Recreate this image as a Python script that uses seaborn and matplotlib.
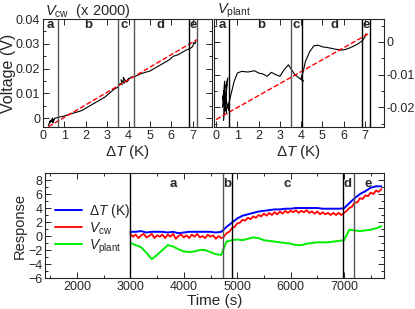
import numpy as np
import pandas as pd
import matplotlib
matplotlib.use("Agg")
import matplotlib.pyplot as plt
import seaborn as sns
from matplotlib.ticker import MultipleLocator

# ---- data: V_cw (x 2000) vs dT ----
cw_dt = [0.25, 0.35, 0.3, 0.45, 0.4, 0.5, 0.45, 0.55, 0.6, 0.8, 1.0, 1.2, 1.5, 1.8, 2.0, 2.3,
         2.6, 2.9, 3.1, 3.3, 3.5, 3.6, 3.7, 3.65, 3.8, 3.75, 3.9, 4.0, 3.95, 4.1, 4.3, 4.6,
         5.0, 5.3, 5.6, 5.9, 6.1, 6.3, 6.5, 6.7, 6.85, 6.95, 7.0, 7.05, 7.1, 7.15]
cw_v = [-0.003, -0.001, -0.002, 0.0, -0.0015, -0.0005, -0.002, 0.0, 0.0, 0.0005, 0.0008,
        0.0015, 0.0022, 0.003, 0.004, 0.0055, 0.007, 0.0085, 0.010, 0.0115, 0.0125, 0.014,
        0.0135, 0.0155, 0.014, 0.0165, 0.0145, 0.016, 0.015, 0.0165, 0.0168, 0.018, 0.019,
        0.0205, 0.022, 0.0235, 0.025, 0.0255, 0.0265, 0.0275, 0.028, 0.0285, 0.029, 0.0305,
        0.030, 0.031]
cw_fit_dt = [0.25, 7.2]
cw_fit_v = [-0.0035, 0.0317]
cw_bounds = [0.68, 3.52, 4.27, 6.84, 7.18]
cw_bound_col = ["#555555", "#555555", "#555555", "black", "#555555"]
cw_lab_x = [0.35, 2.12, 3.78, 5.47, 7.0]

# ---- data: V_plant vs dT ----
pl_dt = [0.3, 0.4, 0.35, 0.5, 0.45, 0.3, 0.55, 0.4, 0.5, 0.35, 0.6, 0.55, 0.7, 0.85, 1.0,
         1.2, 1.5, 1.8, 2.0, 2.2, 2.4, 2.6, 2.8, 3.0, 3.2, 3.4, 3.5, 3.6, 3.7, 3.8, 3.9, 4.0,
         4.1, 4.0, 4.1, 4.2, 4.4, 4.6, 4.8, 5.0, 5.3, 5.6, 5.9, 6.1, 6.3, 6.5, 6.7, 6.9, 7.0,
         7.05]
pl_v = [-0.020, -0.012, -0.024, -0.013, -0.021, -0.017, -0.011, -0.019, -0.022, -0.015,
        -0.021, -0.020, -0.016, -0.012, -0.0095, -0.009, -0.0092, -0.0088, -0.0095, -0.0098,
        -0.0105, -0.0093, -0.0100, -0.0105, -0.0085, -0.0070, -0.0080, -0.0090, -0.0100,
        -0.0105, -0.0110, -0.0115, -0.0120, -0.0110, -0.0090, -0.0060, -0.0030, -0.0012,
        -0.0010, -0.0015, -0.0018, -0.0022, -0.0025, -0.0023, -0.0018, -0.0012, -0.0005,
        0.0005, 0.0015, 0.0025]
pl_fit_dt = [0.0, 7.2]
pl_fit_v = [-0.0237, 0.0026]
pl_bounds = [0.62, 3.5, 4.02, 6.87, 7.23]
pl_bound_col = ["black", "#555555", "black", "black", "black"]
pl_lab_x = [0.31, 2.11, 3.78, 5.55, 7.04]

# ---- data: response vs time ----
time_s = list(range(3000, 7800, 100))
resp_dt = [0.6, 0.6, 0.7, 0.5, 0.6, 0.6, 0.6, 0.5, 0.6, 0.4, 0.5, 0.6, 0.6, 0.6, 0.6, 0.6,
           0.5, 0.6, 1.3, 1.9, 2.5, 2.9, 3.1, 3.3, 3.5, 3.6, 3.7, 3.8, 3.8, 3.9, 3.9, 4.0,
           4.0, 4.0, 4.0, 4.0, 3.9, 3.9, 3.9, 3.9, 3.95, 4.7, 5.4, 6.0, 6.4, 6.9, 7.1, 7.1]
time_cw = list(range(3000, 7750, 50))
resp_cw = [0.3, -0.1, 0.2, -0.3, 0.1, 0.3, -0.2, 0.0, 0.3, -0.3, 0.1, -0.1, 0.2, -0.3, 0.2,
           -0.1, 0.3, -0.4, 0.0, 0.2, -0.2, 0.1, -0.3, 0.2, -0.1, 0.3, -0.2, 0.0, -0.3, 0.2,
           -0.1, 0.1, -0.4, 0.0, -0.3,
           -0.1, 0.4, 0.6, 1.1, 1.3,
           1.8, 1.9, 2.3, 2.2, 2.6, 2.4, 2.8, 2.6, 3.0, 2.8, 3.2, 2.9, 3.3, 3.0, 3.4, 3.1, 3.5,
           3.2, 3.6, 3.3,
           3.6, 3.4, 3.7, 3.3, 3.6, 3.4, 3.7, 3.3, 3.5, 3.2, 3.5, 3.1, 3.4, 3.1, 3.3, 3.0, 3.3,
           3.0, 3.3, 3.0,
           3.3, 3.6, 4.0, 4.2, 4.8, 4.8, 5.4, 5.3, 5.8, 5.7, 6.2, 6.0, 6.5, 6.3, 6.7]
resp_pl = [-1.0, -1.3, -1.6, -2.4, -3.3, -2.7, -2.0, -1.3, -1.5, -1.9, -2.2, -2.3, -2.2,
           -2.0, -2.0, -2.3, -2.6, -2.7, -0.8, -0.6, -0.5, -0.6, -0.4, -0.2, -0.3, -0.6,
           -0.7, -0.8, -0.9, -1.0, -1.1, -1.3, -1.3, -1.1, -1.0, -0.9, -0.9, -0.9, -0.8,
           -0.7, -0.6, 0.9, 0.8, 0.7, 0.8, 0.9, 1.1, 1.4]
t_bounds = [3000, 4740, 4905, 6990, 7190]
t_bound_col = ["black", "#555555", "black", "black", "#555555"]
t_lab_x = [3810, 4813, 5940, 7060, 7450]
seg_labels = ["a", "b", "c", "d", "e"]

sns.set_style("ticks")
plt.rcParams["font.family"] = ["Liberation Sans", "DejaVu Sans"]
plt.rcParams["mathtext.fontset"] = "custom"
plt.rcParams["mathtext.rm"] = "Liberation Sans"
plt.rcParams["mathtext.it"] = "Liberation Sans:italic"
plt.rcParams["xtick.direction"] = "in"
plt.rcParams["ytick.direction"] = "in"
plt.rcParams["xtick.top"] = True
plt.rcParams["ytick.right"] = True

fig = plt.figure(figsize=(4.15, 3.09), dpi=100)
ax1 = fig.add_axes([0.1036, 0.589, 0.4072, 0.3495])
ax2 = fig.add_axes([0.5157, 0.589, 0.4096, 0.3495])
ax3 = fig.add_axes([0.1084, 0.1003, 0.8157, 0.3398])


def style(ax):
    for s in ax.spines.values():
        s.set_linewidth(0.8)
    ax.tick_params(which="major", length=4, width=0.7, labelsize=9, pad=2)
    ax.tick_params(which="minor", length=2, width=0.7)


# top left
sns.lineplot(x=cw_dt, y=cw_v, ax=ax1, color="black", lw=0.8, sort=False, estimator=None)
sns.lineplot(x=cw_fit_dt, y=cw_fit_v, ax=ax1, color="red", lw=1.0, dashes=(4, 2),
             linestyle="--", sort=False, estimator=None)
for xb, c in zip(cw_bounds, cw_bound_col):
    ax1.axvline(xb, color=c, lw=1.0)
for xl, s in zip(cw_lab_x, seg_labels):
    ax1.text(xl, 0.0375, s, ha="center", va="center", fontweight="bold", fontsize=9.5)
ax1.set_xlim(0, 7.9)
ax1.set_ylim(-0.0036, 0.04)
ax1.xaxis.set_major_locator(MultipleLocator(1))
ax1.yaxis.set_minor_locator(MultipleLocator(0.005))
ax1.set_yticks([0, 0.01, 0.02, 0.03, 0.04])
ax1.set_yticklabels(["0", "0.01", "0.02", "0.03", "0.04"])
ax1.set_xlabel(r"$\Delta T$ (K)", fontsize=11, labelpad=1)
ax1.set_ylabel("Voltage (V)", fontsize=11.5)
ax1.yaxis.set_label_coords(-0.16, 0.5)
style(ax1)

# top right
sns.lineplot(x=pl_dt, y=pl_v, ax=ax2, color="black", lw=0.8, sort=False, estimator=None)
sns.lineplot(x=pl_fit_dt, y=pl_fit_v, ax=ax2, color="red", lw=1.0, dashes=(4, 2),
             linestyle="--", sort=False, estimator=None)
for xb, c in zip(pl_bounds, pl_bound_col):
    ax2.axvline(xb, color=c, lw=1.0)
for xl, s in zip(pl_lab_x, seg_labels):
    ax2.text(xl, 0.0052, s, ha="center", va="center", fontweight="bold", fontsize=9.5)
ax2.set_xlim(-0.1, 7.9)
ax2.set_ylim(-0.026, 0.007)
ax2.xaxis.set_major_locator(MultipleLocator(1))
ax2.set_yticks([-0.02, -0.01, 0])
ax2.set_yticklabels(["-0.02", "-0.01", "0"])
ax2.yaxis.set_minor_locator(MultipleLocator(0.005))
ax2.yaxis.tick_right()
ax2.tick_params(axis="y", which="both", left=True, right=True)
ax2.set_xlabel(r"$\Delta T$ (K)", fontsize=11, labelpad=1)
ax2.set_ylabel("")
style(ax2)

# bottom
sns.lineplot(x=time_s, y=resp_dt, ax=ax3, color="#0000ff", lw=1.4, label=r"$\Delta T$ (K)")
sns.lineplot(x=time_cw, y=resp_cw, ax=ax3, color="#ff0000", lw=1.3, label=r"$V_{\rm cw}$")
sns.lineplot(x=time_s, y=resp_pl, ax=ax3, color="#00ee00", lw=1.4, label=r"$V_{\rm plant}$")
for xb, c in zip(t_bounds, t_bound_col):
    ax3.axvline(xb, color=c, lw=1.0)
for xl, s in zip(t_lab_x, seg_labels):
    ax3.text(xl, 7.5, s, ha="center", va="center", fontweight="bold", fontsize=9.5)
ax3.set_xlim(1400, 7740)
ax3.set_ylim(-6, 9)
ax3.xaxis.set_major_locator(MultipleLocator(1000))
ax3.xaxis.set_minor_locator(MultipleLocator(500))
ax3.set_yticks(list(range(-6, 9, 2)))
ax3.yaxis.set_minor_locator(MultipleLocator(1))
ax3.set_xlabel("Time (s)", fontsize=11, labelpad=1)
ax3.set_ylabel("Response", fontsize=10.5)
ax3.yaxis.set_label_coords(-0.053, 0.5)
ax3.legend(loc="upper left", bbox_to_anchor=(0.0, 0.82), frameon=False, fontsize=10,
           handlelength=2.0, labelspacing=0.05, handletextpad=0.5, borderaxespad=0.3)
style(ax3)

fig.text(0.108, 0.965, r"$V_{\rm cw}$  (x 2000)", fontsize=10.5, ha="left", va="center")
fig.text(0.522, 0.965, r"$V_{\rm plant}$", fontsize=10.5, ha="left", va="center")

fig.savefig("out.png", dpi=100)
